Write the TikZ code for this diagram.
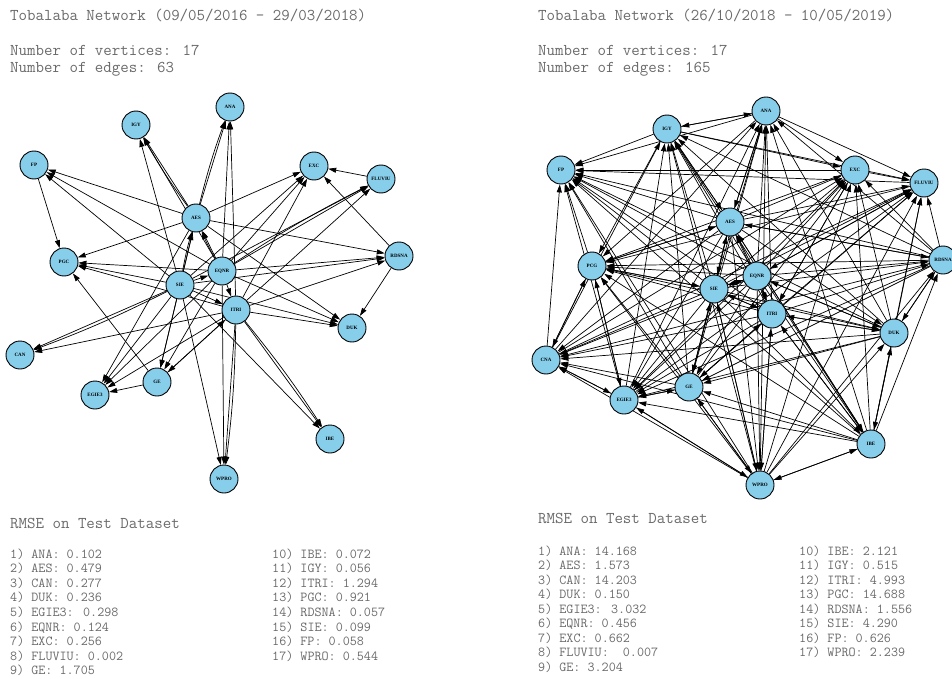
\documentclass[tikz,border=0pt]{standalone}
\usepackage{fontspec}
\newfontfamily\labfont{Liberation Serif}
\usetikzlibrary{arrows.meta}
\definecolor{nodeblue}{HTML}{87CEEB}
\definecolor{txtgray}{HTML}{6A6A6A}
\pgfdeclarelayer{bg}
\pgfsetlayers{bg,main}
\begin{document}
\begin{tikzpicture}[x=1pt,y=-1pt,
 vtx/.style={circle,draw=black,line width=0.9pt,fill=nodeblue,minimum size=28pt,inner sep=0pt,font=\labfont\fontsize{5}{5}\selectfont\bfseries},
 edge/.style={-{Triangle[length=8pt,width=5pt]},line width=0.7pt},
 dbl/.style={edge,bend left=3},
 tbig/.style={anchor=base west,inner sep=0pt,font=\ttfamily\fontsize{16.46}{17}\selectfont,text=txtgray},
 tsmall/.style={anchor=base west,inner sep=0pt,font=\ttfamily\fontsize{13.71}{14.5}\selectfont,text=txtgray}]
\useasboundingbox (0,0) rectangle (952,679);

% ---------- headers ----------
\node[tbig] (t1) at (10,21) {Tobalaba Network (09/05/2016 - 29/03/2018)};
\node[tbig] (t2) at (10,56) {Number of vertices: 17};
\node[tbig] (t3) at (10,73) {Number of edges: 63};
\node[tbig] (u1) at (538,21) {Tobalaba Network (26/10/2018 - 10/05/2019)};
\node[tbig] (u2) at (538,56) {Number of vertices: 17};
\node[tbig] (u3) at (538,73) {Number of edges: 165};

% ---------- left graph nodes ----------
\node[vtx] (LANA) at (230,107) {ANA};
\node[vtx] (LIGY) at (136,125) {IGY};
\node[vtx] (LFP) at (34,165) {FP};
\node[vtx] (LEXC) at (314,166) {EXC};
\node[vtx] (LFLU) at (381,179) {FLUVIU};
\node[vtx] (LAES) at (196,218) {AES};
\node[vtx] (LPGC) at (64,262) {PGC};
\node[vtx] (LRDS) at (399,256) {RDSNA};
\node[vtx] (LEQN) at (222,271) {EQNR};
\node[vtx] (LSIE) at (180,285) {SIE};
\node[vtx] (LITR) at (236,310) {ITRI};
\node[vtx] (LDUK) at (352,328) {DUK};
\node[vtx] (LCAN) at (20,355) {CAN};
\node[vtx] (LGE) at (157,382) {GE};
\node[vtx] (LEGI) at (95,395) {EGIE3};
\node[vtx] (LIBE) at (330,439) {IBE};
\node[vtx] (LWPR) at (224,479) {WPRO};

% ---------- right graph nodes ----------
\node[vtx] (RANA) at (766,111) {ANA};
\node[vtx] (RIGY) at (667,129) {IGY};
\node[vtx] (RFP) at (561,170) {FP};
\node[vtx] (REXC) at (855,170) {EXC};
\node[vtx] (RFLU) at (924,183) {FLUVIU};
\node[vtx] (RAES) at (730,222) {AES};
\node[vtx] (RPCG) at (592,266) {PCG};
\node[vtx] (RRDS) at (943,260) {RDSNA};
\node[vtx] (REQN) at (757,276) {EQNR};
\node[vtx] (RSIE) at (714,289) {SIE};
\node[vtx] (RITR) at (772,314) {ITRI};
\node[vtx] (RDUK) at (894,333) {DUK};
\node[vtx] (RCNA) at (546,360) {CNA};
\node[vtx] (RGE) at (689,387) {GE};
\node[vtx] (REGI) at (624,400) {EGIE3};
\node[vtx] (RIBE) at (871,444) {IBE};
\node[vtx] (RWPR) at (760,485) {WPRO};

\begin{pgfonlayer}{bg}
% ---------- left edges ----------
\foreach \s/\t in {FP/PGC,FLU/EXC,RDS/EXC,RDS/DUK,
  AES/FP,SIE/FP,EQN/FP,
  AES/IGY,EQN/IGY,SIE/IGY,
  AES/PGC,EQN/PGC,SIE/PGC,ITR/PGC,GE/PGC,
  AES/ANA,EQN/ANA,ITR/ANA,
  AES/EXC,SIE/EXC,EQN/EXC,ITR/EXC,
  EQN/FLU,SIE/FLU,ITR/FLU,
  AES/RDS,EQN/RDS,ITR/RDS,SIE/RDS,
  AES/DUK,EQN/DUK,ITR/DUK,SIE/DUK,
  SIE/CAN,ITR/CAN,
  SIE/EGI,AES/EGI,EQN/EGI,ITR/EGI,GE/EGI,
  SIE/GE,EQN/GE,ITR/GE,AES/GE,
  SIE/WPR,ITR/WPR,EQN/WPR,
  SIE/IBE,ITR/IBE,
  SIE/AES,EQN/AES,SIE/EQN,EQN/ITR,SIE/ITR,GE/ITR}
  \draw[edge] (L\s) -- (L\t);
\foreach \s/\t in {AES/IGY,AES/ANA,EQN/FLU,SIE/CAN,ITR/WPR,ITR/IBE,SIE/AES,EQN/AES}
  \draw[dbl] (L\s) to (L\t);

% ---------- right edges ----------
\foreach \s in {SIE,EQN,ITR,AES}
  \foreach \t in {ANA,IGY,FP,EXC,FLU,PCG,RDS,DUK,CNA,GE,EGI,IBE,WPR}
    \draw[edge] (R\s) -- (R\t);
\foreach \s/\t in {SIE/AES,EQN/AES,ITR/AES,SIE/EQN,EQN/SIE,ITR/SIE,ITR/EQN,EQN/ITR,SIE/ITR,AES/SIE}
  \draw[edge] (R\s) -- (R\t);
\foreach \t in {WPR,DUK,RDS,GE,EGI,CNA,IGY,ANA,EXC,FLU,PCG,FP}
  \draw[edge] (RIBE) -- (R\t);
\foreach \t in {DUK,RDS,GE,EGI,CNA,IGY,ANA,EXC,FLU,PCG,FP}
  \draw[edge] (RWPR) -- (R\t);
\foreach \t in {RDS,GE,EGI,CNA,IGY,ANA,EXC,FLU,PCG,FP}
  \draw[edge] (RDUK) -- (R\t);
\foreach \t in {GE,EGI,CNA,IGY,ANA,EXC,FLU,PCG,FP}
  \draw[edge] (RRDS) -- (R\t);
\foreach \t in {EGI,CNA,IGY,ANA,EXC,FLU,PCG,FP}
  \draw[edge] (RGE) -- (R\t);
\foreach \t in {CNA,IGY,ANA,EXC,FLU,PCG,FP}
  \draw[edge] (REGI) -- (R\t);
\foreach \t in {IGY,ANA,EXC,FLU,PCG,FP}
  \draw[edge] (RCNA) -- (R\t);
\foreach \t in {ANA,EXC,FLU,PCG,FP}
  \draw[edge] (RIGY) -- (R\t);
\foreach \t in {EXC,FLU,PCG,FP}
  \draw[edge] (RANA) -- (R\t);
\foreach \t in {FLU,PCG,FP}
  \draw[edge] (REXC) -- (R\t);
\foreach \t in {PCG,FP}
  \draw[edge] (RFLU) -- (R\t);
\draw[edge] (RPCG) -- (RFP);
\foreach \s/\t in {WPR/IBE,ANA/IGY,DUK/IBE,EGI/WPR,GE/WPR,IBE/ITR,WPR/ITR,DUK/EQN,
  RDS/AES,IBE/AES,DUK/ITR,GE/SIE,PCG/SIE,PCG/CNA,CNA/EGI,EGI/GE,RDS/DUK,PCG/EGI,
  WPR/SIE,ANA/AES,IGY/AES,EXC/ITR,FLU/EQN,GE/ITR,PCG/AES}
  \draw[edge] (R\s) -- (R\t);
\end{pgfonlayer}

% ---------- RMSE left ----------
\node[tbig] (r1) at (10,528) {RMSE on Test Dataset};
\foreach \txt [count=\i from 0] in {1) ANA: 0.102,2) AES: 0.479,3) CAN: 0.277,4) DUK: 0.236,5) EGIE3: 0.298,6) EQNR: 0.124,7) EXC: 0.256,8) FLUVIU: 0.002,9) GE: 1.705}
  \node[tsmall] (la\i) at (10,558+14.6*\i) {\txt};
\foreach \txt [count=\i from 0] in {10) IBE: 0.072,11) IGY: 0.056,12) ITRI: 1.294,13) PGC: 0.921,14) RDSNA: 0.057,15) SIE: 0.099,16) FP: 0.058,17) WPRO: 0.544}
  \node[tsmall] (lb\i) at (272,558+14.6*\i) {\txt};

% ---------- RMSE right ----------
\node[tbig] (r2) at (538,523) {RMSE on Test Dataset};
\foreach \txt [count=\i from 0] in {1) ANA: 14.168,2) AES: 1.573,3) CAN: 14.203,4) DUK: 0.150,5) EGIE3: 3.032,6) EQNR: 0.456,7) EXC: 0.662,8) FLUVIU:\ \ 0.007,9) GE: 3.204}
  \node[tsmall] (ra\i) at (538,555+14.5*\i) {\txt};
\foreach \txt [count=\i from 0] in {10) IBE: 2.121,11) IGY: 0.515,12) ITRI: 4.993,13) PGC: 14.688,14) RDSNA: 1.556,15) SIE: 4.290,16) FP: 0.626,17) WPRO: 2.239}
  \node[tsmall] (rb\i) at (799,555+14.5*\i) {\txt};
\end{tikzpicture}
\end{document}
